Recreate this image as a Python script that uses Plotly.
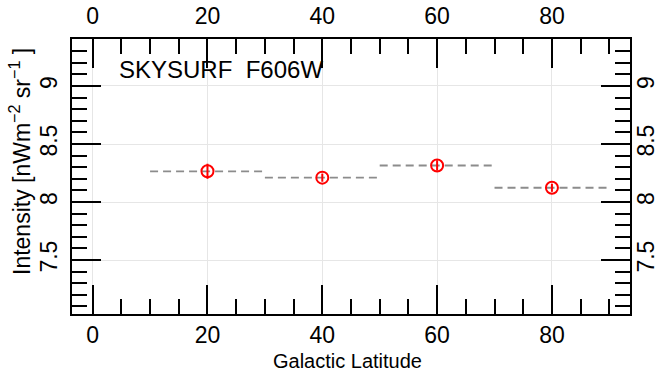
import plotly.graph_objects as go

# Data
latitude = [20, 40, 60, 80]
intensity = [8.265, 8.21, 8.315, 8.123]
intensity_err = [0.065, 0.035, 0.045, 0.035]
bin_lo = [10, 30, 50, 70]
bin_hi = [30, 50, 70, 90]
x_ticks = [0, 20, 40, 60, 80]
y_ticks = [7.5, 8, 8.5, 9]
y_tick_labels = ["7.5", "8", "8.5", "9"]

xr = [-3.6, 93.6]
yr = [7.035, 9.405]

fig = go.Figure()

# dashed bin levels
dx, dy = [], []
for lo, hi, v in zip(bin_lo, bin_hi, intensity):
    dx += [lo, hi, None]
    dy += [v, v, None]
fig.add_trace(go.Scatter(x=dx, y=dy, mode="lines",
                         line=dict(color="#8c8c8c", width=1.8, dash="8px,5px"),
                         hoverinfo="skip", showlegend=False))

fig.add_trace(go.Scatter(
    x=latitude, y=intensity, mode="markers",
    marker=dict(symbol="circle-open", size=12, color="red", line=dict(width=2, color="red")),
    error_y=dict(type="data", array=intensity_err, visible=True, color="red", thickness=2, width=0),
    showlegend=False))

# invisible trace for secondary axes
fig.add_trace(go.Scatter(x=[xr[0]], y=[yr[0]], xaxis="x2", yaxis="y2", mode="markers",
                         marker=dict(opacity=0), hoverinfo="skip", showlegend=False))

FONT = "Liberation Sans, Arial, sans-serif"
tickfont = dict(family=FONT, size=23, color="black")
common_x = dict(range=xr, tickmode="array", tickvals=x_ticks, ticks="inside", ticklen=29,
                tickwidth=2, tickcolor="black", tickfont=tickfont, zeroline=False,
                automargin=False,
                minor=dict(dtick=5, tick0=0, ticks="inside", ticklen=15, tickwidth=2,
                           tickcolor="black", showgrid=False))
common_y = dict(range=yr, tickmode="array", tickvals=y_ticks, ticktext=y_tick_labels,
                ticks="inside", ticklen=29, tickwidth=2, tickcolor="black",
                tickfont=tickfont, zeroline=False, tickangle=-90, automargin=False,
                minor=dict(dtick=0.1, tick0=7.0, ticks="inside", ticklen=15, tickwidth=2,
                           tickcolor="black", showgrid=False))

fig.update_layout(
    width=656, height=374,
    margin=dict(l=72, r=26, t=39, b=60),
    paper_bgcolor="white", plot_bgcolor="white",
    xaxis=dict(**common_x, showgrid=True, gridcolor="#e6e6e6", gridwidth=1,
               showline=True, linewidth=2, linecolor="black", ticklabelstandoff=-1),
    yaxis=dict(**common_y, showgrid=True, gridcolor="#e6e6e6", gridwidth=1,
               showline=True, linewidth=2, linecolor="black", ticklabelstandoff=4),
    xaxis2=dict(**common_x, overlaying="x", side="top", anchor="y", showgrid=False,
                showline=True, linewidth=2, linecolor="black", ticklabelstandoff=4),
    yaxis2=dict(**common_y, overlaying="y", side="right", anchor="x", showgrid=False,
                showline=True, linewidth=2, linecolor="black", ticklabelstandoff=-6),
    annotations=[
        dict(text="SKYSURF\u00a0 F606W", xref="paper", yref="paper",
             x=(117 - 72) / 558, y=(314 - 69) / 275, xanchor="left", yanchor="middle",
             showarrow=False, font=dict(family=FONT, size=24, color="black")),
        dict(text="Galactic Latitude", xref="paper", yref="paper",
             x=0.494, y=(314 - 361) / 275, xanchor="center", yanchor="middle",
             showarrow=False, font=dict(family=FONT, size=20, color="black")),
        dict(text="Intensity [nWm<sup>\u22122</sup> sr<sup>\u22121</sup> ]", xref="paper", yref="paper",
             x=(20 - 72) / 558, y=(314 - 162) / 275, xanchor="center", yanchor="middle",
             textangle=-90, showarrow=False,
             font=dict(family=FONT, size=23, color="black")),
    ],
)

fig.write_html("out.html")
